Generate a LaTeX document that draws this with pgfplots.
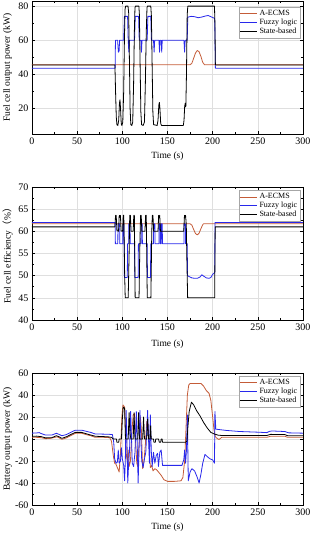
\documentclass[border=0pt]{standalone}
\usepackage{fontspec}
\setmainfont{Liberation Serif}
\newfontfamily\cjk{Noto Sans CJK SC}
\usepackage{pgfplots}
\pgfplotsset{compat=1.18}
\definecolor{ecms}{RGB}{196,92,56}
\definecolor{fuzzy}{RGB}{40,40,235}
\pgfplotsset{
  mystyle/.style={
    scale only axis, width=271pt, height=133pt,
    xmin=0, xmax=300, xtick={0,50,...,300},
    minor x tick num=1, minor y tick num=1,
    tick align=inside, grid=major,
    major grid style={gray!25, line width=0.4pt},
    axis line style={line width=0.8pt},
    tick style={black, line width=0.6pt},
    major tick length=3pt, minor tick length=1.8pt,
    ticklabel style={font=\fontsize{10}{11}\selectfont},
    label style={font=\fontsize{9.5}{10}\selectfont},
    xlabel style={at={(axis description cs:0.5,-0.17)}, anchor=center},
    ylabel style={at={(axis description cs:-0.09,0.5)}, anchor=center},
    /pgf/number format/assume math mode=true,
    legend cell align=left,
    legend style={at={(axis description cs:0.99,0.955)}, anchor=north east,
      font=\fontsize{8}{9}\selectfont, draw=gray!70, line width=0.4pt,
      inner sep=1pt, row sep=-2pt},
    legend image code/.code={\draw[#1] (0pt,0pt) -- (17pt,0pt);},
    every axis plot/.append style={line width=0.8pt, line join=round},
  }
}
\begin{document}
\begin{tikzpicture}[x=1pt,y=1pt]
%------------------------------------------------ (a)
\begin{axis}[mystyle, at={(32pt,416pt)}, ymin=5, ymax=83, ytick={20,40,60,80},
  xlabel={Time (s)}, ylabel={Fuel cell output power (kW)}]
\addplot[ecms] coordinates {(0,45.6)(175,45.6)(177,46.5)(179,49.5)(181,52.5)(183,54)(185,53.2)(187,50.5)(189,47)(191,45.6)(300,45.6)};
\addlegendentry{A-ECMS}
\addplot[fuzzy] coordinates {(0,43.6)(92,43.6)(92.4,60)(94.8,60)(95.6,53)(96.4,53.5)(97,60)(101.5,60)(102.3,74)(105.8,74)(106.5,60)(107.2,53)(107.8,60)(113.5,60)(114.3,74)(118,74)(118.7,60)(120.5,60)(121.2,53)(121.8,60)(127.5,60)(128.3,74)(131.5,74)(132.2,60)(134.5,60)(135.2,53)(135.8,60)(140.5,60)(141.2,53)(141.8,60)(143,60)(143.6,53)(144.2,60)(168.2,60)(168.9,53)(169.6,60)(171.8,60)(172.5,73.5)(176,74)(180,73.8)(184,73.2)(188,73.6)(192,74.2)(195,74.5)(198,73.8)(201.5,73)(202.3,72.5)(203,43.6)(300,43.6)};
\addlegendentry{Fuzzy logic}
\addplot[black] coordinates {(0,45.5)(91.8,45.5)(92.5,30)(93.3,15)(94,10.5)(95,10)(96,13)(96.8,23)(97.4,25)(98,20)(98.8,11)(99.5,10)(100.5,12)(101.5,30)(102.3,60)(103,78)(103.6,80)(106.3,80)(107,76)(107.8,50)(108.6,20)(109.4,10.5)(110.5,10)(111.5,12)(112.5,35)(113.3,65)(114,79)(114.5,80)(118.3,80)(118.9,75)(119.7,45)(120.5,18)(121.3,10.5)(123,10)(124.5,12)(125.5,35)(126.5,65)(127.3,79)(127.8,80)(131.5,80)(132.2,74)(133,45)(133.8,18)(134.6,10.5)(138.5,10)(139.5,13)(140.4,22)(141,23.5)(141.6,20)(142.5,11)(143.5,10)(167.5,10)(168.3,13)(169,21)(169.6,23)(170.3,21)(171,40)(171.8,75)(172.5,80)(202,80)(202.5,70)(203,45.5)(300,45.5)};
\addlegendentry{State-based}
\node[font=\fontsize{9.5}{10}\selectfont] at (axis description cs:0.5,-0.29) {(\textbf{a})};
\end{axis}
%------------------------------------------------ (b)
\begin{axis}[mystyle, at={(32pt,230pt)}, ymin=40, ymax=70, ytick={40,45,...,70},
  xlabel={Time (s)}, ylabel={Fuel cell efficiency{\cjk （}\%{\cjk ）}},
  xlabel style={at={(axis description cs:0.5,-0.18)}},
  legend style={at={(axis description cs:0.99,0.975)}}]
\addplot[ecms] coordinates {(0,61.7)(175,61.7)(177,61.4)(179,60.4)(181,59.5)(183,59.2)(185,59.6)(187,60.6)(189,61.5)(190,61.7)(300,61.7)};
\addlegendentry{A-ECMS}
\addplot[fuzzy] coordinates {(0,62)(92,62)(92.3,57.2)(95,57.2)(95.2,61.7)(97,61.7)(97.2,57.2)(100.5,57.2)(100.7,61.7)(101.8,61.7)(102,57.2)(102.3,49.6)(105.5,49.6)(105.8,57.2)(107,57.2)(107.2,61.7)(108.5,61.7)(108.7,57.2)(113.5,57.2)(113.8,49.6)(117.5,49.6)(117.8,57.2)(120.5,57.2)(120.7,61.7)(122,61.7)(122.2,57.2)(127.5,57.2)(127.8,49.6)(131.2,49.6)(131.5,57.2)(134.5,57.2)(134.7,61.7)(136,61.7)(136.2,57.2)(140.5,57.2)(140.7,61.7)(141.8,61.7)(142,57.2)(143,57.2)(143.2,61.7)(144.2,61.7)(144.4,57.2)(168.2,57.2)(168.4,61.7)(169.8,61.7)(170,57.2)(171.8,57.2)(172.2,50)(174,49.8)(177,49.5)(180,49.4)(183,49.4)(186,49.7)(188,50.2)(190,49.9)(193,49.5)(196,49.4)(198,49.6)(200,50.3)(202.3,50.7)(202.6,62)(300,62)};
\addlegendentry{Fuzzy logic}
\addplot[black] coordinates {(0,61.0)(91.8,61.0)(92.5,63.6)(93.2,63.6)(94,60.2)(95.8,60)(96.5,63.4)(97,63.6)(97.4,63.2)(97.9,63.6)(98.6,60.1)(100.3,60)(101,63.6)(101.6,63.6)(102.6,50)(103.2,45)(106.5,45)(107.5,55)(108.2,63.6)(108.9,63.6)(109.7,60)(112,60)(112.7,63.6)(113.3,63.6)(114.2,45)(118.5,45)(119.5,58)(120.2,63.6)(120.9,63.6)(121.6,60)(125,60)(125.8,63.6)(126.5,63.6)(127.6,45)(131.6,45)(132.6,60)(133.2,63.6)(133.9,63.6)(134.7,60)(139.5,60)(140.2,63.6)(140.7,63.1)(141.4,63.6)(142.2,60)(168,60)(168.8,63.6)(169.4,63.2)(170,63.6)(170.8,61.5)(171.6,52)(172.3,45)(202.2,45)(202.8,61)(300,61)};
\addlegendentry{State-based}
\node[font=\fontsize{9.5}{10}\selectfont] at (axis description cs:0.5,-0.285) {(\textbf{b})};
\end{axis}
%------------------------------------------------ (c)
\begin{axis}[mystyle, at={(32pt,45pt)}, height=132pt, ymin=-60, ymax=60, ytick={-60,-40,...,60},
  xlabel={Time (s)}, ylabel={Battery output power (kW)},
  xlabel style={at={(axis description cs:0.5,-0.167)}},
  legend style={at={(axis description cs:0.99,0.975)}}]
\addplot[ecms] coordinates {(0,1.5)(5,1.5)(10,1.2)(15,0.3)(20,0.5)(25,1.5)(28,2)(33,-0.3)(38,1)(44,3.5)(48,5.2)(55,5.2)(60,4)(65,3)(70,1.5)(80,1.5)(86,1.2)(88,-2)(90,-15)(91.5,-22)(93,-23)(95,-27)(96.5,-30)(98,-12)(99.5,20)(100.7,31)(102.5,29)(103.5,10)(104.5,-15)(105.5,-20)(106.5,-10)(107.5,-25)(109,-20)(110.5,5)(112,22)(113.5,23)(114.5,0)(116,-22)(117,-25)(118.5,-5)(120,20)(121,10)(122.5,-27)(124,-20)(125.5,-5)(127,16)(128.5,14)(130,-10)(131,-26)(132.5,-24)(134,-29)(136,-27)(138,-28)(140,-30)(143,-33)(146,-37)(150,-38.5)(158,-38.5)(165,-38)(167,-35)(169,-20)(170.5,10)(172,40)(173.5,49)(175,50.5)(187,50.5)(190,48)(193,44)(196,41.5)(198,35)(200,20)(201.5,8)(203,2)(205,0.5)(207,-0.5)(210,1.5)(260,1.5)(264,2.5)(280,2.5)(283,1.5)(300,1.5)};
\addlegendentry{A-ECMS}
\addplot[fuzzy] coordinates {(0,5.3)(5,5.5)(8,5.8)(10,5)(15,3.6)(22,3.6)(27,5.2)(30,4.2)(33,3)(38,4)(44,6.5)(48,8)(55,8)(60,7)(65,6)(70,4.6)(85,4.3)(89,4)(90.5,-3)(91.5,-18)(93,-22)(94.5,-21)(95.5,-10)(96.5,-22)(98,-20)(99,-8)(100,-18)(101.5,-24)(102.5,-38)(103.3,-20)(104.2,26)(105,5)(106,-40)(107,-22)(108,-10)(109.2,25)(110,5)(111,-22)(112.5,-25)(114,-12)(115.5,25)(116.5,-5)(117.5,-40)(118.5,-10)(119.5,26)(120.5,0)(121.5,-20)(123,-26)(124.5,-18)(126,-12)(128,26)(129,0)(130,-22)(131,22)(132,-10)(133,-25)(134.5,-12)(136,-22)(137.5,-15)(139,-13)(140,-25)(141.5,-12)(143,-10)(144.5,-24)(166,-24)(168,-19)(169,-10)(170,-22)(171,-10)(172,22)(173,-38)(175,-30)(177,-27)(180,-29)(183,-35)(185,-40)(187,-32)(189,-22)(191.5,-14)(194,-16)(197,-18)(200,-19)(202,-22)(202.5,25)(203.5,9)(205,8.8)(215,7.8)(230,6.8)(250,6.2)(260,5.8)(263,7)(266,7.3)(280,6.8)(284,5.6)(300,5.3)};
\addlegendentry{Fuzzy logic}
\addplot[black] coordinates {(0,2.5)(5,2.6)(10,2.2)(15,1)(22,1.2)(27,3)(30,2)(33,0.6)(38,2)(44,4.5)(48,6)(55,6)(62,4.3)(70,2.5)(84,2)(88,1.5)(90,0)(93.5,0)(94,-3)(96,-3)(96.5,0)(99,0)(100,18)(101,29)(102.5,28)(103.5,0)(106.5,0)(107.5,24)(108.5,5)(109.5,0)(112,0)(113,24)(114,0)(117,0)(118,24)(119,0)(122.5,0)(123.5,20)(124.5,0)(127,0)(128,18)(129,0)(130.5,0)(131.3,12)(132,0)(134.5,0)(135,-3)(136.5,-3)(137,0)(140,0)(141,-3)(142.5,-3)(143,0)(144,0)(144.5,-3)(170,-3)(171.5,-2)(172.5,10)(174,25)(176.5,33.5)(179,31)(182,26)(186,21)(190,15)(194,10)(198,6)(202,4.5)(206,3.5)(210,3.2)(260,3.2)(264,4.2)(280,4)(283,3)(300,3)};
\addlegendentry{State-based}
\node[font=\fontsize{9.5}{10}\selectfont] at (axis description cs:0.5,-0.29) {(\textbf{c})};
\end{axis}
\pgfresetboundingbox
\path[use as bounding box] (0pt,0pt) rectangle (313pt,550pt);
\end{tikzpicture}
\end{document}
